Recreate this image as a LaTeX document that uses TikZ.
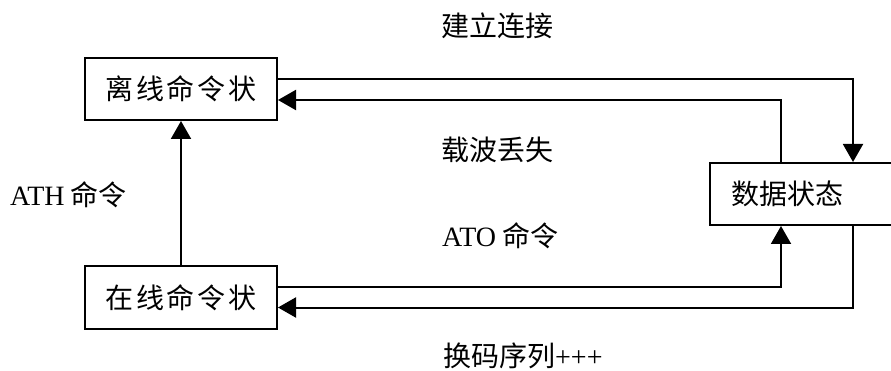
\documentclass[tikz,border=0pt]{standalone}
\usepackage{fontspec}
\setmainfont{Liberation Serif}
\newfontfamily\cjk{Noto Sans CJK SC}
\newfontfamily\cjkls{Noto Sans CJK SC}[LetterSpace=9]
\usetikzlibrary{arrows.meta}
\begin{document}
\begin{tikzpicture}[x=1pt,y=-1pt,
  box/.style={draw, line width=2pt, inner sep=0pt, minimum height=62pt, font=\fontsize{28}{32}\selectfont\cjk},
  arr/.style={-{Triangle[length=18pt,width=20pt]}, line width=2pt},
  lbl/.style={inner sep=0pt, font=\fontsize{28}{32}\selectfont}]
\useasboundingbox (0,0) rectangle (891,371);
\clip (0,0) rectangle (891,371);
\node[box, minimum width=192pt] (off) at (181,89) {\cjkls 离线命令状};
\node[box, minimum width=192pt, minimum height=63pt] (on) at (181,297.5) {\cjkls 在线命令状};
\node[box, anchor=north west, minimum width=250pt, text width=208pt, align=left, inner xsep=21pt] (data) at (709,162) {数据状态};
\node[lbl] (l1) at (497,25.5) {\cjk 建立连接};
\node[lbl] (l2) at (497,150) {\cjk 载波丢失};
\node[lbl, anchor=west] (l3) at (442,236) {ATO\hspace{6pt}{\cjk 命令}};
\node[lbl, anchor=west] (l4) at (10,195) {ATH\hspace{6pt}{\cjk 命令}};
\node[lbl, anchor=west] (l5) at (443,355.5) {{\cjk 换码序列}+++};
\draw[arr] ([yshift=10pt]off.east) -| ([xshift=144pt]data.north west);
\draw[arr] ([xshift=72pt]data.north west) |- ([yshift=-11pt]off.east);
\draw[arr] (on.north) -- (off.south);
\draw[arr] ([yshift=10.5pt]on.east) -| ([xshift=72pt]data.south west);
\draw[arr] ([xshift=144pt]data.south west) |- ([yshift=-10pt]on.east);
\end{tikzpicture}
\end{document}
